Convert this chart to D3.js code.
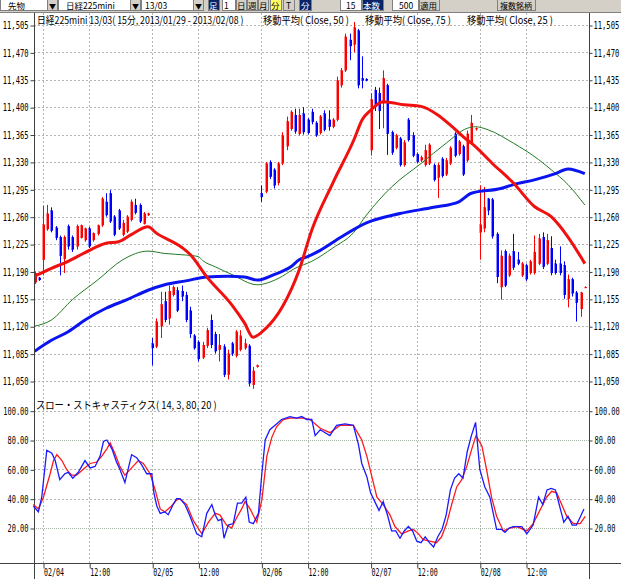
<!DOCTYPE html>
<html>
<head>
<meta charset="utf-8">
<script src="https://cdn.jsdelivr.net/npm/d3@7"></script>
<style>
  body { margin: 0; background: #fff; }
  svg { display: block; }
</style>
</head>
<body>
<svg id="chart"></svg>
<script>
// 15 min bars, first entry is bar -2 (end of 02/01), [open, high, low, close]
const firstBar = -2;
const ohlc = [
  [11176,11190,11174,11188],[11182,11183,11178,11179],
  // 02/04
  [11205,11274,11185,11250],[11244,11275,11242,11264],[11268,11272,11240,11242],[11246,11248,11230,11233],
  [11234,11236,11185,11210],[11206,11236,11188,11234],[11248,11250,11218,11222],[11234,11236,11215,11218],
  [11222,11250,11218,11248],[11233,11250,11232,11249],[11230,11246,11228,11245],[11245,11247,11220,11222],
  [11230,11240,11228,11239],[11238,11250,11236,11249],[11249,11285,11247,11283],[11279,11290,11260,11262],
  [11290,11294,11252,11254],[11260,11262,11235,11237],[11268,11270,11243,11245],[11237,11256,11235,11252],
  [11241,11262,11239,11260],[11256,11282,11254,11279],[11275,11283,11263,11265],[11275,11277,11252,11254],
  [11251,11266,11250,11264],[11262,11265,11261,11264],
  // 02/05
  [11098,11105,11070,11092],[11094,11130,11092,11126],[11120,11164,11105,11148],[11152,11164,11125,11128],
  [11130,11172,11122,11165],[11160,11172,11158,11170],[11166,11170,11138,11140],[11165,11172,11152,11158],
  [11160,11164,11125,11128],[11140,11145,11105,11110],[11108,11110,11090,11092],[11100,11102,11075,11078],
  [11080,11100,11078,11096],[11095,11118,11092,11115],[11128,11135,11092,11096],[11110,11113,11085,11088],
  [11090,11110,11075,11096],[11094,11097,11055,11058],[11058,11090,11052,11085],[11098,11100,11082,11085],
  [11082,11115,11080,11113],[11090,11115,11088,11108],[11092,11104,11090,11098],[11095,11097,11043,11047],
  [11045,11068,11040,11063],[11068,11071,11067,11070],
  // 02/06
  [11290,11300,11279,11285],[11292,11330,11290,11328],[11330,11332,11308,11311],[11320,11322,11296,11300],
  [11303,11330,11300,11328],[11328,11368,11326,11364],[11350,11388,11345,11382],[11372,11396,11370,11394],
  [11390,11398,11366,11369],[11366,11398,11364,11390],[11392,11400,11365,11368],[11384,11386,11365,11367],
  [11394,11398,11378,11381],[11380,11382,11362,11364],[11367,11390,11365,11388],[11392,11396,11369,11371],
  [11384,11396,11370,11375],[11375,11386,11373,11384],[11384,11439,11382,11434],[11428,11450,11425,11447],
  [11447,11494,11445,11490],[11486,11494,11460,11478],[11480,11509,11470,11502],[11498,11500,11424,11428],
  [11437,11465,11424,11434],[11436,11437,11433,11434],
  // 02/07
  [11345,11418,11338,11410],[11422,11426,11395,11400],[11418,11425,11372,11395],[11405,11447,11373,11437],
  [11428,11430,11339,11366],[11368,11370,11339,11342],[11348,11366,11346,11364],[11360,11362,11324,11326],
  [11326,11358,11324,11355],[11384,11386,11356,11358],[11364,11368,11336,11338],[11340,11342,11328,11330],
  [11332,11338,11330,11336],[11326,11352,11324,11345],[11328,11354,11326,11352],[11326,11328,11305,11307],
  [11310,11329,11284,11326],[11334,11336,11310,11312],[11314,11335,11312,11332],[11328,11350,11326,11348],
  [11366,11368,11336,11338],[11340,11358,11338,11356],[11350,11352,11312,11314],[11332,11370,11330,11366],
  [11354,11390,11352,11380],[11372,11374,11370,11373],
  // 02/08
  [11240,11300,11205,11250],[11245,11298,11240,11272],[11283,11284,11262,11268],[11282,11284,11232,11235],
  [11238,11240,11175,11183],[11170,11217,11154,11210],[11216,11218,11170,11172],[11185,11213,11183,11210],
  [11216,11238,11192,11195],[11205,11215,11198,11200],[11185,11202,11183,11200],[11198,11200,11178,11180],
  [11188,11205,11186,11203],[11188,11236,11186,11215],[11200,11238,11198,11232],[11234,11240,11193,11196],
  [11200,11238,11198,11230],[11220,11235,11185,11188],[11200,11205,11186,11188],[11200,11222,11185,11188],
  [11198,11203,11155,11160],[11155,11186,11144,11180],[11180,11182,11158,11162],[11163,11165,11126,11150],
  [11142,11164,11132,11163],[11170,11171,11169,11170]
];

// moving averages, [bar, value]
const ma25 = [[-2,11184],[2,11194],[6,11203],[10,11214],[15,11226],[18,11228],[21,11237],[25,11247],[27,11239],
  [33,11221],[35,11212],[39,11183],[45,11147],[48,11124],[50,11106],[53,11117],[57,11145],[61,11192],[64,11243],
  [69,11303],[74,11358],[76,11384],[78,11396],[81,11407],[86,11403],[90,11401],[94,11390],[97,11377],[101,11358],
  [102,11354],[107,11328],[112,11303],[117,11273],[121,11260],[125,11234],[128,11209],[129,11200]];
const ma50 = [[-2,11088],[2,11102],[6,11113],[10,11128],[15,11143],[20,11154],[25,11166],[29,11173],[34,11178],
  [39,11183],[44,11184],[48,11183],[51,11179],[55,11186],[59,11196],[61,11205],[63,11209],[66,11217],[71,11234],
  [77,11252],[85,11264],[93,11272],[99,11279],[102,11290],[109,11296],[112,11301],[117,11307],[122,11315],
  [125,11321],[129,11315]];
const ma75 = [[-2,11120],[2,11128],[7,11154],[13,11179],[19,11205],[25,11216],[29,11213],[34,11211],[37,11209],
  [38,11204],[41,11196],[45,11186],[51,11173],[56,11181],[60,11194],[64,11203],[69,11220],[74,11240],[77,11262],
  [83,11298],[90,11328],[96,11354],[101,11373],[103,11375],[106,11371],[112,11354],[118,11333],[121,11320],
  [125,11301],[129,11275]];

// slow stochastics %K (blue) and %D (red), [bar, value]
const stochK = [[-2.3,35],[-1.1,31],[-0.3,41],[0.9,73],[2.1,71],[2.9,66],[4,53],[5.2,57],[6,58],[7.1,54],[8.4,58],
  [10,66],[11.2,61],[12.4,62],[13.6,69],[14.4,79],[15.2,80],[16.4,74],[17.5,65],[18.3,60],[19.5,51],[21.1,70],
  [22.3,68],[23.5,63],[24.7,57],[25.9,57],[26.4,44],[27.1,35],[27.9,30],[29,31],[29.8,29],[31,36],[31.8,40],
  [32.6,40],[33.8,36],[35,28],[36.6,16],[37.8,14],[39,30],[40.2,36],[41,29],[41.7,25],[42.5,26],[43.1,13],
  [44.1,22],[45.3,23],[46.3,37],[47.3,37],[48.3,41],[49.1,24],[50.1,23],[51.3,30],[52.1,57],[52.9,80],[54,87],
  [55.6,91],[56.8,94],[58.8,96],[60.4,95],[61.6,96],[62.8,94],[64,94],[64.8,83],[66,87],[68.3,83],[69.9,90],
  [71.9,91],[73.9,90],[75.1,77],[75.9,64],[77.1,55],[78,44],[79,38],[80,32],[81,38],[82,29],[83,18],[84,18],
  [85,13],[86,18],[87,21],[88,18],[89,11],[90,10],[91,14],[92,10],[93,7],[94,14],[95,19],[96,29],[97,46],[98,54],
  [99,57],[100,54],[101,72],[102,83],[103,92],[104,60],[105.2,48],[106.4,41],[108,19],[109.2,19],[110,17],[111,20],
  [112,21],[114,21],[115.2,16],[116.7,22],[118,41],[119,36],[120,46],[121,47],[122,46],[123,35],[124,24],[125,28],
  [126,22],[127,22],[128,28],[128.8,33]];
const stochD = [[-2.3,36],[-1.1,33],[0.1,41],[1.7,57],[2.5,66],[3.3,70],[4.5,66],[5.6,60],[6.8,56],[8,56],[9.6,60],
  [11.2,64],[12.8,65],[14,69],[15.2,74],[16,78],[17.1,71],[18.3,62],[19.5,56],[21.1,61],[22.7,66],[23.9,64],
  [25.5,57],[26.7,46],[27.9,33],[29,31],[30.6,35],[31.8,39],[32.6,40],[34.2,36],[35.8,25],[37.8,16],[39.4,24],
  [41,30],[42.1,29],[43.7,22],[44.9,20],[46.1,27],[47.3,33],[48.1,38],[49.3,33],[50.9,24],[52.1,39],[53.3,69],
  [54.5,82],[55.6,89],[57.2,94],[58.8,95],[60.4,95],[62,95],[63.6,94],[66,88],[68.3,85],[70.7,90],[73.9,90],
  [75.9,80],[77.1,69],[78.3,55],[79.5,41],[81,36],[82.6,29],[83.8,21],[85.4,16],[87,18],[88.2,19],[89.4,16],
  [90.5,12],[92.1,11],[93.7,10],[94.9,14],[96.1,23],[97.3,36],[98.5,48],[99.7,53],[100.9,62],[102.1,74],
  [103.1,83],[104.5,76],[105.6,60],[106.8,41],[108,28],[109.6,18],[111.2,20],[112.8,21],[115.2,18],[116.7,23],
  [118.3,32],[119.9,41],[121.1,45],[122.3,44],[123.5,36],[124.7,28],[126.3,23],[127.9,23],[129.1,28]];

// axis ticks
const priceTicks = [11050,11085,11120,11155,11190,11225,11260,11295,11330,11365,11400,11435,11470,11505];
const stochTicks = [20,40,60,80,100];
const timeTicks = [0,11,26,37,52,63,78,89,104,115];
const timeLabels = ["02/04","12:00","02/05","12:00","02/06","12:00","02/07","12:00","02/08","12:00"];

const W = 621, H = 579;
const plotL = 34, plotR = 589, plotT = 13, priceB = 395, axisB = 563;
const jp = "'Noto Sans CJK JP', sans-serif";
const mono = "'DejaVu Sans Mono', monospace";

const svg = d3.select("#chart").attr("width", W).attr("height", H)
  .style("font-family", jp);

// squeeze a text horizontally to the given width (the original uses a narrow bitmap font)
function fitText(node, width) {
  const s = width / node.getComputedTextLength();
  const x0 = +node.getAttribute("x") || 0;
  node.setAttribute("x", x0 / s);
  node.setAttribute("transform", `scale(${s},1)`);
}

// Scales
const x = d3.scaleLinear().domain([0, 104]).range([43, 479.8]);
const yP = d3.scaleLinear().domain([11050, 11505]).range([381, 25]);
const yS = d3.scaleLinear().domain([20, 100]).range([528, 410.7]);

// toolbar strip
const tb = svg.append("g");
tb.append("rect").attr("width", W).attr("height", 12).attr("fill", "#d4d0c8");
const field = (x0, w) => tb.append("rect").attr("x", x0 + 0.5).attr("y", -2.5).attr("width", w).attr("height", 13)
  .attr("fill", "#fff").attr("stroke", "#808080");
const button = (x0, w, fill) => tb.append("rect").attr("x", x0 + 0.5).attr("y", -2.5).attr("width", w).attr("height", 13)
  .attr("fill", fill || "#d4d0c8").attr("stroke", "#808080");
const label = (x0, t, col, size) => tb.append("text").attr("x", x0).attr("y", 9).attr("font-size", size || 8.5)
  .attr("fill", col || "#000").text(t);
field(0, 47); button(47, 10); label(8, "先物"); label(49, "▼", "#000", 7);
field(58, 72); button(130, 10); label(66, "日経225mini"); label(132, "▼", "#000", 7);
field(141, 52); button(193, 10); label(145, "13/03"); label(195, "▼", "#000", 7);
button(208, 11, "#0a246a"); label(209, "足", "#fff");
field(222, 13); label(224, "1");
button(236, 10); label(237, "日");
button(247, 10); label(248, "週");
button(258, 10); label(259, "月");
button(270, 11, "#ffff66"); label(271, "分");
button(283, 11); label(286, "T");
button(299, 12, "#0a246a"); label(301, "分", "#fff");
field(340, 21); label(346, "15");
button(362, 21, "#0a246a"); label(363, "本数", "#fff");
field(392, 26); label(399, "500");
button(419, 20); label(420, "適用");
button(497, 38); label(500, "複数銘柄", "#000", 8);

// Gridlines
const grid = svg.append("g").attr("stroke", "#b4b4b4").attr("stroke-dasharray", "2,2").attr("stroke-width", 1);
priceTicks.forEach(v => {
  const yy = Math.round(yP(v)) + 0.5;
  grid.append("line").attr("x1", plotL).attr("x2", plotR).attr("y1", yy).attr("y2", yy);
});
stochTicks.forEach(v => {
  const yy = Math.round(yS(v)) + 0.5;
  grid.append("line").attr("x1", plotL).attr("x2", plotR).attr("y1", yy).attr("y2", yy)
    .attr("stroke", v === 80 || v === 20 ? "#a8b4a8" : "#b4b4b4")
    .attr("stroke-dasharray", v === 80 || v === 20 ? "1,1" : "2,2");
});
timeTicks.forEach(i => {
  const xx = Math.round(x(i)) + 0.5;
  grid.append("line").attr("x1", xx).attr("x2", xx).attr("y1", plotT).attr("y2", axisB);
});

// Frame
const frame = svg.append("g").attr("stroke", "#404040").attr("stroke-width", 1);
frame.append("line").attr("x1", plotL + 0.5).attr("x2", plotL + 0.5).attr("y1", plotT).attr("y2", H);
frame.append("line").attr("x1", plotR + 0.5).attr("x2", plotR + 0.5).attr("y1", plotT).attr("y2", H);
frame.append("line").attr("x1", 0).attr("x2", W).attr("y1", plotT - 0.5).attr("y2", plotT - 0.5).attr("stroke", "#808080");
frame.append("line").attr("x1", 0).attr("x2", W).attr("y1", axisB + 0.5).attr("y2", axisB + 0.5);

// Axes
const styleAxis = charW => g => {
  g.select(".domain").remove();
  g.selectAll(".tick line").attr("stroke", "#404040");
  g.selectAll(".tick text").attr("font-family", mono).attr("font-size", 10).attr("fill", "#000")
    .each(function() { fitText(this, this.textContent.length * charW); });
};
svg.append("g").attr("transform", `translate(${plotL + 0.5},0.5)`)
  .call(d3.axisLeft(yP).tickValues(priceTicks).tickFormat(d3.format(",")).tickSize(4).tickPadding(2))
  .call(styleAxis(4.3));
svg.append("g").attr("transform", `translate(${plotR + 0.5},0.5)`)
  .call(d3.axisRight(yP).tickValues(priceTicks).tickFormat(d3.format(",")).tickSize(3).tickPadding(1))
  .call(styleAxis(4.3));
svg.append("g").attr("transform", `translate(${plotL + 0.5},0.5)`)
  .call(d3.axisLeft(yS).tickValues(stochTicks).tickFormat(d3.format(".2f")).tickSize(4).tickPadding(2))
  .call(styleAxis(4.2));
svg.append("g").attr("transform", `translate(${plotR + 0.5},0.5)`)
  .call(d3.axisRight(yS).tickValues(stochTicks).tickFormat(d3.format(".2f")).tickSize(3).tickPadding(2))
  .call(styleAxis(4.2));
const xAxis = svg.append("g").attr("transform", `translate(0.5,${axisB + 0.5})`)
  .call(d3.axisBottom(x).tickValues(timeTicks).tickFormat((d, k) => timeLabels[k]).tickSize(5));
xAxis.selectAll(".tick text").attr("text-anchor", "start").attr("y", 13).attr("dy", 0);
xAxis.call(styleAxis(4));

// Candles
const clip = svg.append("clipPath").attr("id", "pclip");
clip.append("rect").attr("x", plotL + 1).attr("y", plotT).attr("width", plotR - plotL - 1).attr("height", priceB - plotT);
const candles = svg.append("g").attr("clip-path", "url(#pclip)")
  .selectAll("g").data(ohlc).enter().append("g");
const cx = (d, k) => Math.round(x(k + firstBar));
const up = d => d[3] >= d[0];
candles.append("line")
  .attr("x1", (d, k) => cx(d, k) + 0.5).attr("x2", (d, k) => cx(d, k) + 0.5)
  .attr("y1", d => yP(d[1])).attr("y2", d => yP(d[2]))
  .attr("stroke", d => up(d) ? "#ff0000" : "#0000ff").attr("stroke-width", 1);
candles.append("rect")
  .attr("x", (d, k) => cx(d, k) - 1).attr("width", 3)
  .attr("y", d => yP(Math.max(d[0], d[3])))
  .attr("height", d => Math.max(1, yP(Math.min(d[0], d[3])) - yP(Math.max(d[0], d[3]))))
  .attr("fill", d => up(d) ? "#ff0000" : "#0000ff");
candles.append("rect")
  .attr("x", (d, k) => cx(d, k) - 1).attr("width", 1)
  .attr("y", d => yP(Math.max(d[0], d[3])))
  .attr("height", d => Math.max(1, yP(Math.min(d[0], d[3])) - yP(Math.max(d[0], d[3]))))
  .attr("fill", d => up(d) ? "#ff8c8c" : "#8c8cff");

// Moving averages
const maLine = d3.line().x(d => x(d[0])).y(d => yP(d[1])).curve(d3.curveMonotoneX);
const maG = svg.append("g").attr("clip-path", "url(#pclip)").attr("fill", "none");
maG.append("path").attr("d", maLine(ma75)).attr("stroke", "#237a23").attr("stroke-width", 1);
maG.append("path").attr("d", maLine(ma50)).attr("stroke", "#0a14f0").attr("stroke-width", 3);
maG.append("path").attr("d", maLine(ma25)).attr("stroke", "#f01010").attr("stroke-width", 3);

// Stochastics
const stLine = d3.line().x(d => x(d[0])).y(d => yS(d[1]));
const stG = svg.append("g").attr("fill", "none");
stG.append("path").attr("d", stLine(stochD)).attr("stroke", "#ff1a1a").attr("stroke-width", 1.3);
stG.append("path").attr("d", stLine(stochK)).attr("stroke", "#1a1aff").attr("stroke-width", 1.3);

// Titles
const titles = svg.append("g").attr("font-size", 10.5).attr("fill", "#000");
[
  [37, 24.5, 207, "日経225mini 13/03( 15分, 2013/01/29 - 2013/02/08 )"],
  [263, 24.5, 86, "移動平均( Close, 50 )"],
  [365, 24.5, 86, "移動平均( Close, 75 )"],
  [467, 24.5, 86, "移動平均( Close, 25 )"],
  [36, 409, 181, "スロー・ストキャスティクス( 14, 3, 80, 20 )"]
].forEach(t => {
  const node = titles.append("text").attr("x", t[0]).attr("y", t[1]).text(t[3]).node();
  fitText(node, t[2]);
});
</script>
</body>
</html>
